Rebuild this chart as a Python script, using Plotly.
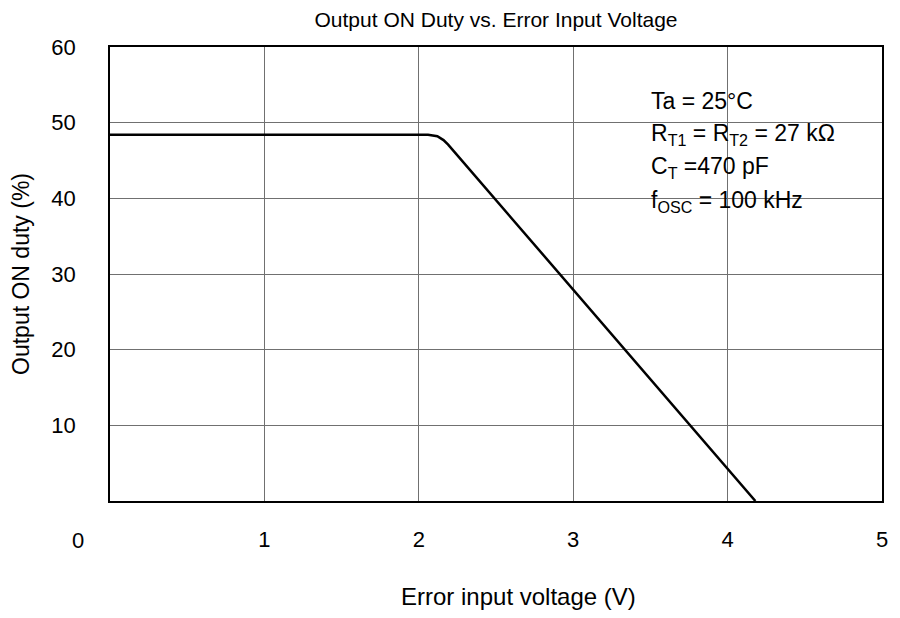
"""Output ON duty vs. error input voltage"""
import plotly.graph_objects as go

# curve
voltage = [0.0, 2.06, 2.12, 2.16, 2.19, 4.18]
duty = [48.4, 48.4, 48.2, 47.7, 47.1, 0.0]

x_ticks = [1, 2, 3, 4, 5]
y_ticks = [10, 20, 30, 40, 50, 60]

notes = [
    "Ta = 25°C",
    "R<sub>T1</sub> = R<sub>T2</sub> = 27 kΩ",
    "C<sub>T</sub> =470 pF",
    "f<sub>OSC</sub> = 100 kHz",
]
note_y = [0.882, 0.808, 0.735, 0.660]

FONT = "Liberation Sans, Arial, sans-serif"

fig = go.Figure(go.Scatter(
    x=voltage, y=duty, mode="lines",
    line=dict(color="black", width=2.5),
    showlegend=False, hoverinfo="skip",
))

# white patch behind the condition text (covers grid lines)
fig.add_shape(type="rect", xref="paper", yref="paper",
              x0=0.667, x1=0.9845, y0=0.63, y1=0.93,
              fillcolor="white", line_width=0, layer="between")

for txt, yy in zip(notes, note_y):
    fig.add_annotation(text=txt, xref="paper", yref="paper",
                       x=0.698, y=yy, xanchor="left", yanchor="middle",
                       showarrow=False, align="left",
                       font=dict(size=23, color="black", family=FONT))

# shared origin label, sits under the y tick labels
fig.add_annotation(text="0", xref="paper", yref="paper",
                   x=-0.041, y=-0.086, xanchor="center", yanchor="middle",
                   showarrow=False, font=dict(size=22, color="black", family=FONT))

# x axis title (sits a little right of centre in the original)
fig.add_annotation(text="Error input voltage (V)", xref="paper", yref="paper",
                   x=0.529, y=-0.211, xanchor="center", yanchor="middle",
                   showarrow=False, font=dict(size=24, color="black", family=FONT))

fig.update_layout(
    width=900, height=618,
    title=dict(text="Output ON Duty vs. Error Input Voltage",
               x=0.5, xref="paper", xanchor="center",
               y=1 - 20 / 618, yref="container", yanchor="middle",
               font=dict(size=21, color="black", family=FONT)),
    font=dict(family=FONT, size=22, color="black"),
    plot_bgcolor="white",
    paper_bgcolor="white",
    margin=dict(l=110, r=15, t=47, b=117),
    xaxis=dict(range=[0, 5], tickvals=x_ticks, ticks="",
               ticklabelstandoff=18, tickfont=dict(size=22),
               showgrid=True, gridcolor="#707070", gridwidth=1,
               showline=True, linecolor="black", linewidth=1.5, mirror=True,
               zeroline=False),
    yaxis=dict(range=[0, 60], tickvals=y_ticks, ticks="",
               ticklabelstandoff=28, tickfont=dict(size=22),
               showgrid=True, gridcolor="#707070", gridwidth=1,
               showline=True, linecolor="black", linewidth=1.5, mirror=True,
               zeroline=False,
               title=dict(text="Output ON duty (%)", standoff=15,
                          font=dict(size=23))),
)

fig.write_html("out.html", config={"displayModeBar": False},
               post_script="document.body.style.margin='0';")
